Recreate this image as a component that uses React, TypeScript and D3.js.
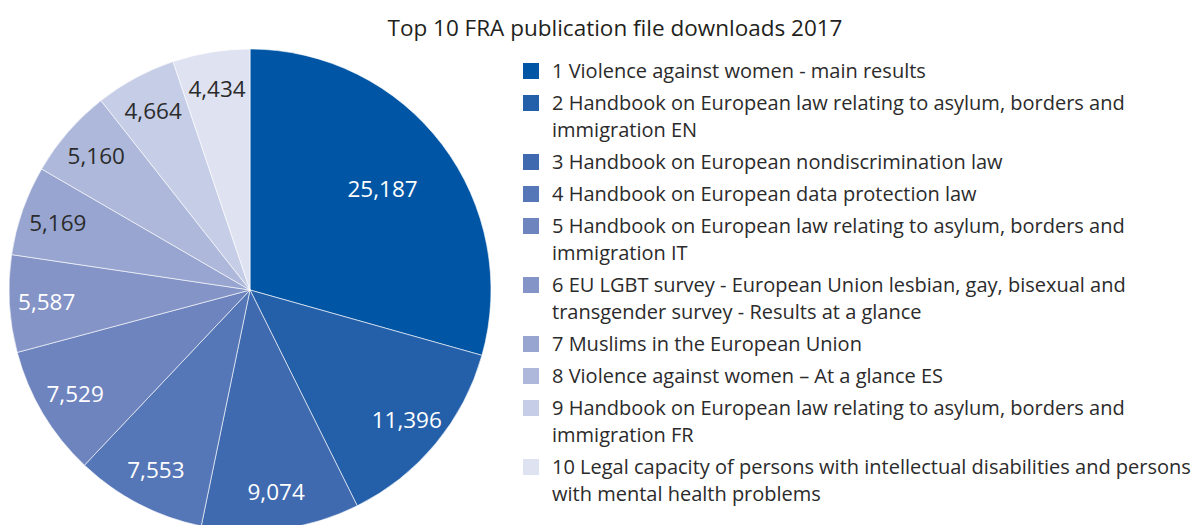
import React, { useEffect, useRef } from 'react';
import * as d3 from 'd3';

const title = 'Top 10 FRA publication file downloads 2017';

const downloads = [25187, 11396, 9074, 7553, 7529, 5587, 5169, 5160, 4664, 4434];

const sliceColors = [
  '#0055a4', '#2460aa', '#3f6ab0', '#5677b7', '#6e84bf',
  '#8494c7', '#97a5d0', '#adb8da', '#c6cde6', '#dfe3f1',
];

// dark value labels on the pale slices
const labelColors = [
  '#ffffff', '#ffffff', '#ffffff', '#ffffff', '#ffffff',
  '#ffffff', '#2b2b2b', '#2b2b2b', '#2b2b2b', '#2b2b2b',
];

const legendLines = [
  ['1 Violence against women - main results'],
  ['2 Handbook on European law relating to asylum, borders and', 'immigration EN'],
  ['3 Handbook on European nondiscrimination law'],
  ['4 Handbook on European data protection law'],
  ['5 Handbook on European law relating to asylum, borders and', 'immigration IT'],
  ['6 EU LGBT survey - European Union lesbian, gay, bisexual and', 'transgender survey - Results at a glance'],
  ['7 Muslims in the European Union'],
  ['8 Violence against women \u2013 At a glance ES'],
  ['9 Handbook on European law relating to asylum, borders and', 'immigration FR'],
  ['10 Legal capacity of persons with intellectual disabilities and persons', 'with mental health problems'],
];

const FONT = '"Open Sans", "Noto Sans", sans-serif';

const App = () => {
  const svgRef = useRef(null);

  useEffect(() => {
    const width = 1204;
    const height = 525;
    const cx = 250;
    const cy = 290;
    const radius = 241;

    const svg = d3.select(svgRef.current)
      .attr('width', width)
      .attr('height', height);
    svg.selectAll('*').remove();

    // Title
    svg.append('text')
      .attr('x', 615)
      .attr('y', 36)
      .attr('text-anchor', 'middle')
      .style('font-family', FONT)
      .style('font-size', '22.5px')
      .style('fill', '#231f20')
      .text(title);

    const total = d3.sum(downloads);
    const pie = d3.pie<number>().sort(null).value(d => d);
    const arcs = pie(downloads);
    const arc = d3.arc<d3.PieArcDatum<number>>().innerRadius(0).outerRadius(radius);

    const g = svg.append('g').attr('transform', `translate(${cx},${cy})`);

    g.selectAll('path')
      .data(arcs)
      .enter()
      .append('path')
      .attr('d', arc)
      .style('fill', (d, i) => sliceColors[i])
      .style('stroke', '#ffffff')
      .style('stroke-width', 0.6);

    // value labels: big slice sits further in
    g.selectAll('text.val')
      .data(arcs)
      .enter()
      .append('text')
      .attr('class', 'val')
      .attr('transform', d => {
        const r = d.value / total > 0.25 ? radius * 0.69 : radius * 0.845;
        const a = (d.startAngle + d.endAngle) / 2;
        return `translate(${Math.sin(a) * r},${-Math.cos(a) * r})`;
      })
      .attr('dy', '0.35em')
      .attr('text-anchor', 'middle')
      .style('font-family', FONT)
      .style('font-size', '22.5px')
      .style('fill', (d, i) => labelColors[i])
      .text(d => d3.format(',')(d.value));

    // Legend
    const lineH = 27;
    const gap = 5;
    const legend = svg.append('g');
    let y = 63;
    legendLines.forEach((lines, i) => {
      legend.append('rect')
        .attr('x', 523)
        .attr('y', y)
        .attr('width', 16)
        .attr('height', 16)
        .style('fill', sliceColors[i]);
      lines.forEach((line, j) => {
        legend.append('text')
          .attr('x', 552)
          .attr('y', y + 8 + j * lineH)
          .attr('dy', '0.35em')
          .style('font-family', FONT)
          .style('font-size', '20px')
          .style('fill', '#2b2b2b')
          .text(line);
      });
      y += lines.length * lineH + gap;
    });
  }, []);

  return (
    <svg ref={svgRef} style={{ position: 'absolute', left: 0, top: 0, background: '#fff' }} />
  );
};

export default App;
